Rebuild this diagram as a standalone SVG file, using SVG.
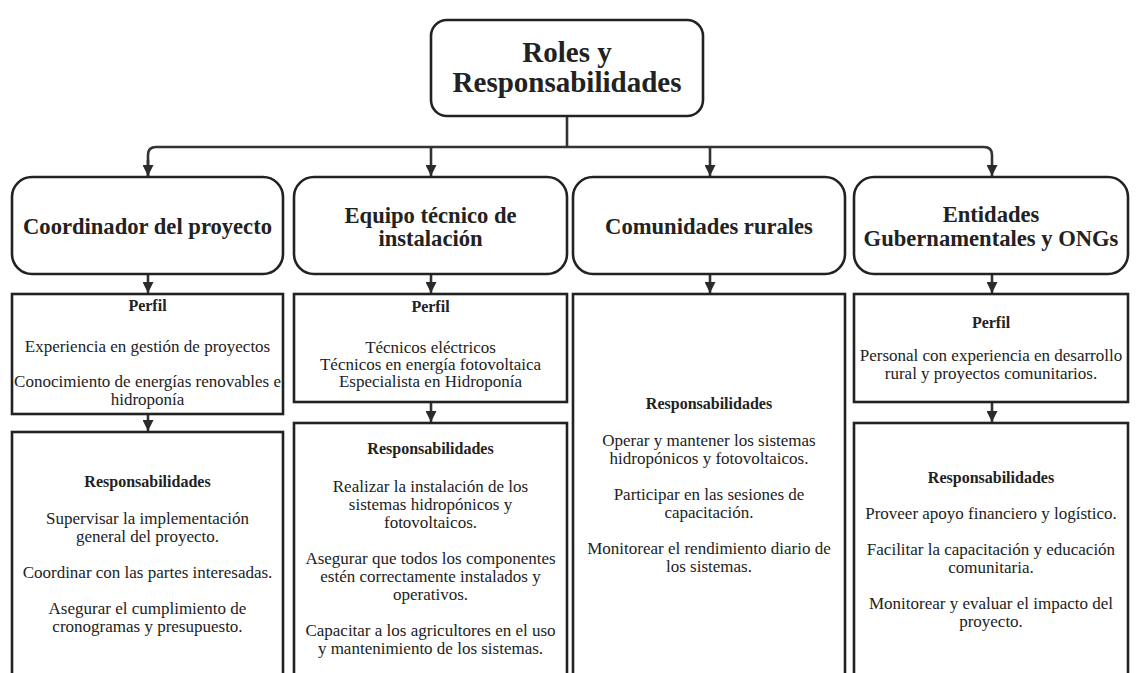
<svg xmlns="http://www.w3.org/2000/svg" width="1138" height="673" viewBox="0 0 1138 673">
<defs>
<marker id="ah" viewBox="0 0 10 10" refX="10" refY="5" markerWidth="11" markerHeight="11" markerUnits="userSpaceOnUse" orient="auto">
<path d="M0,0 L10,5 L0,10 z" fill="#2b2b2b"/>
</marker>
<style>
.box{fill:#fff;stroke:#222;stroke-width:2.6}
.conn{fill:none;stroke:#333;stroke-width:2.6}
.t{fill:#222;text-anchor:middle;font-family:"Liberation Serif","Times New Roman",serif}
.title{font-size:29px;font-weight:bold}
.hd{font-size:22.6px;font-weight:bold}
.lb{font-size:16px;font-weight:bold}
.bd{font-size:17px}
</style>
</defs>
<rect width="1138" height="673" fill="#fff"/>

<g id="connectors">
<path class="conn" d="M567,117 V147"/>
<path class="conn" d="M148,176 V155 Q148,147 156,147 H984 Q992,147 992,155 V176" marker-end="url(#ah)"/>
<path class="conn" d="M148,160 V176" marker-end="url(#ah)"/>
<path class="conn" d="M431,147 V176" marker-end="url(#ah)"/>
<path class="conn" d="M710,147 V176" marker-end="url(#ah)"/>
<path class="conn" d="M148,275 V293" marker-end="url(#ah)"/>
<path class="conn" d="M431,275 V293" marker-end="url(#ah)"/>
<path class="conn" d="M710,275 V293" marker-end="url(#ah)"/>
<path class="conn" d="M992,275 V293" marker-end="url(#ah)"/>
<path class="conn" d="M148,415 V431" marker-end="url(#ah)"/>
<path class="conn" d="M431,403 V422" marker-end="url(#ah)"/>
<path class="conn" d="M992,403 V422" marker-end="url(#ah)"/>
</g>

<g id="root">
<rect class="box" x="431" y="20" width="272" height="96" rx="16"/>
<text class="t title" x="567" y="62">Roles y</text>
<text class="t title" x="567" y="92">Responsabilidades</text>
</g>

<g id="coordinador">
<rect class="box" x="12" y="177" width="271" height="97" rx="20"/>
<text class="t hd" x="147.5" y="234">Coordinador del proyecto</text>
</g>
<g id="equipo">
<rect class="box" x="294" y="177" width="273" height="97" rx="20"/>
<text class="t hd" x="430.5" y="223">Equipo técnico de</text>
<text class="t hd" x="430.5" y="246">instalación</text>
</g>
<g id="comunidades">
<rect class="box" x="573" y="177" width="272" height="97" rx="20"/>
<text class="t hd" x="709" y="234">Comunidades rurales</text>
</g>
<g id="entidades">
<rect class="box" x="854" y="177" width="274" height="97" rx="20"/>
<text class="t hd" x="991" y="222">Entidades</text>
<text class="t hd" x="991" y="246">Gubernamentales y ONGs</text>
</g>

<g id="perfil-coordinador">
<rect class="box" x="12" y="294" width="271" height="120"/>
<text class="t lb" x="147.5" y="311">Perfil</text>
<text class="t bd" x="147.5" y="352">Experiencia en gestión de proyectos</text>
<text class="t bd" x="147.5" y="387">Conocimiento de energías renovables e</text>
<text class="t bd" x="147.5" y="405">hidroponía</text>
</g>
<g id="perfil-equipo">
<rect class="box" x="294" y="294" width="273" height="108"/>
<text class="t lb" x="430.5" y="312">Perfil</text>
<text class="t bd" x="430.5" y="353">Técnicos eléctricos</text>
<text class="t bd" x="430.5" y="370">Técnicos en energía fotovoltaica</text>
<text class="t bd" x="430.5" y="387">Especialista en Hidroponía</text>
</g>
<g id="resp-comunidades">
<rect class="box" x="573" y="294" width="272" height="400"/>
<text class="t lb" x="709" y="409">Responsabilidades</text>
<text class="t bd" x="709" y="446">Operar y mantener los sistemas</text>
<text class="t bd" x="709" y="464">hidropónicos y fotovoltaicos.</text>
<text class="t bd" x="709" y="500">Participar en las sesiones de</text>
<text class="t bd" x="709" y="518">capacitación.</text>
<text class="t bd" x="709" y="554">Monitorear el rendimiento diario de</text>
<text class="t bd" x="709" y="572">los sistemas.</text>
</g>
<g id="perfil-entidades">
<rect class="box" x="854" y="294" width="274" height="108"/>
<text class="t lb" x="991" y="328">Perfil</text>
<text class="t bd" x="991" y="361">Personal con experiencia en desarrollo</text>
<text class="t bd" x="991" y="379">rural y proyectos comunitarios.</text>
</g>

<g id="resp-coordinador">
<rect class="box" x="12" y="432" width="271" height="262"/>
<text class="t lb" x="147.5" y="487">Responsabilidades</text>
<text class="t bd" x="147.5" y="524">Supervisar la implementación</text>
<text class="t bd" x="147.5" y="542">general del proyecto.</text>
<text class="t bd" x="147.5" y="578">Coordinar con las partes interesadas.</text>
<text class="t bd" x="147.5" y="614">Asegurar el cumplimiento de</text>
<text class="t bd" x="147.5" y="632">cronogramas y presupuesto.</text>
</g>
<g id="resp-equipo">
<rect class="box" x="294" y="423" width="273" height="271"/>
<text class="t lb" x="430.5" y="454">Responsabilidades</text>
<text class="t bd" x="430.5" y="492">Realizar la instalación de los</text>
<text class="t bd" x="430.5" y="510">sistemas hidropónicos y</text>
<text class="t bd" x="430.5" y="528">fotovoltaicos.</text>
<text class="t bd" x="430.5" y="564">Asegurar que todos los componentes</text>
<text class="t bd" x="430.5" y="582">estén correctamente instalados y</text>
<text class="t bd" x="430.5" y="600">operativos.</text>
<text class="t bd" x="430.5" y="636">Capacitar a los agricultores en el uso</text>
<text class="t bd" x="430.5" y="654">y mantenimiento de los sistemas.</text>
</g>
<g id="resp-entidades">
<rect class="box" x="854" y="423" width="274" height="271"/>
<text class="t lb" x="991" y="483">Responsabilidades</text>
<text class="t bd" x="991" y="519">Proveer apoyo financiero y logístico.</text>
<text class="t bd" x="991" y="555">Facilitar la capacitación y educación</text>
<text class="t bd" x="991" y="573">comunitaria.</text>
<text class="t bd" x="991" y="609">Monitorear y evaluar el impacto del</text>
<text class="t bd" x="991" y="627">proyecto.</text>
</g>
</svg>
